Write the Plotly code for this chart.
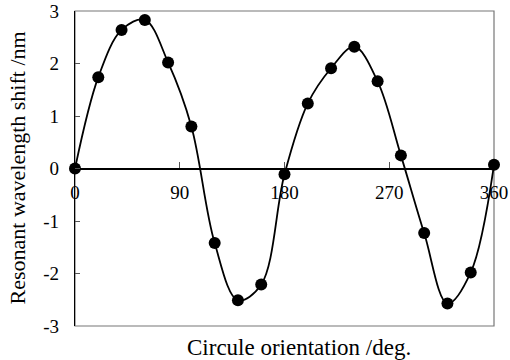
import plotly.graph_objects as go

angles = [0, 20, 40, 60, 80, 100, 120, 140, 160, 180, 200, 220, 240, 260, 280, 300, 320, 340, 360]
shift = [0.0, 1.74, 2.64, 2.83, 2.02, 0.80, -1.42, -2.51, -2.21, -0.11, 1.24, 1.91, 2.32, 1.66, 0.25, -1.23, -2.57, -1.98, 0.07]
x_ticks = [0, 90, 180, 270, 360]
y_ticks = [-3, -2, -1, 0, 1, 2, 3]
y_tick_text = ["-3", "-2", "-1", "0", "1", "2", "3"]

FONT = "Liberation Serif"

fig = go.Figure()
fig.add_trace(go.Scatter(
    x=angles, y=shift, mode="lines+markers",
    line=dict(color="black", width=1.8, shape="spline", smoothing=1.0),
    marker=dict(color="black", size=12),
    showlegend=False, cliponaxis=False,
))

fig.update_layout(
    width=510, height=360,
    margin=dict(l=75, r=16, t=11, b=34, autoexpand=False),
    paper_bgcolor="white", plot_bgcolor="white",
    font=dict(family=FONT, size=19, color="black"),
    xaxis=dict(
        range=[0, 360], tickvals=x_ticks, ticktext=[str(v) for v in x_ticks],
        showgrid=False, zeroline=False, showline=True, linecolor="black", linewidth=1.8,
        ticks="inside", ticklen=6, tickcolor="#555", anchor="free", position=0.5,
        tickfont=dict(family=FONT, size=19), ticklabelstandoff=7,
    ),
    yaxis=dict(
        range=[-3, 3], tickvals=y_ticks, ticktext=y_tick_text,
        showgrid=False, zeroline=False,
        showline=True, linecolor="black", linewidth=1.3,
        ticks="inside", ticklen=5, tickcolor="#555",
        tickfont=dict(family=FONT, size=19), ticklabelstandoff=11,
    ),
    shapes=[dict(type="rect", xref="paper", yref="paper", x0=0, y0=0, x1=1, y1=1,
                 line=dict(color="#777", width=1.2), layer="below")],
    annotations=[
        dict(text="Circule orientation /deg.", xref="paper", yref="paper", x=0.5, y=0,
             xshift=14, yshift=-21, showarrow=False, font=dict(family=FONT, size=23),
             yanchor="middle"),
        dict(text="Resonant wavelength shift /nm", xref="paper", yref="paper", x=0, y=0.5,
             xshift=-58, showarrow=False, textangle=-90, font=dict(family=FONT, size=22),
             xanchor="center"),
    ],
)

fig.write_html("out.html", config={"displayModeBar": False},
               post_script="document.body.style.margin='0';document.body.style.overflow='hidden';")
